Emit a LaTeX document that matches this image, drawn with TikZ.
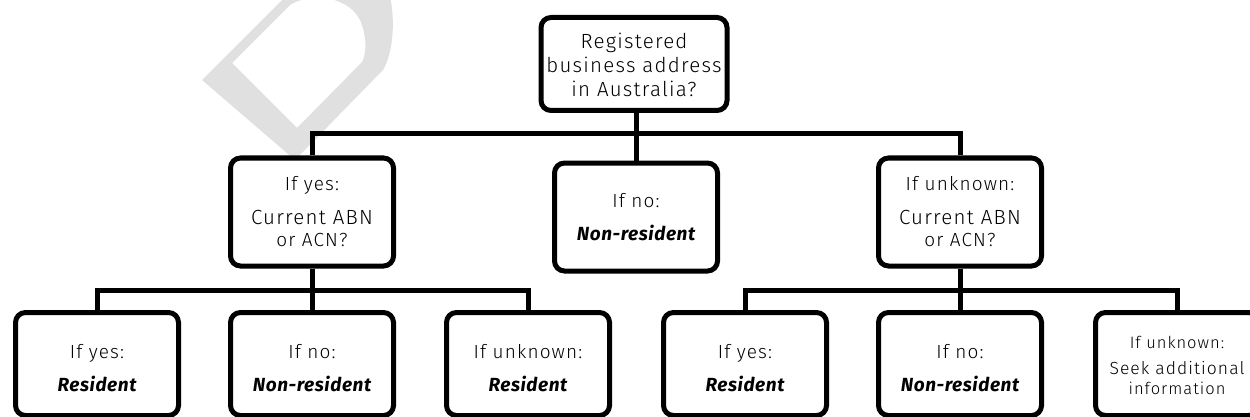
\documentclass[tikz,border=0pt]{standalone}
\usepackage{fontspec}
\setmainfont{Fira Sans Light}[LetterSpace=6]
\newfontfamily\emfont{Fira Sans}[LetterSpace=3]
\newcommand{\resword}[1]{{\emfont\bfseries\itshape #1}}
\newcommand{\qsize}{\fontsize{20.5}{23.5}\selectfont}
\begin{document}
\begin{tikzpicture}[x=1pt,y=-1pt,
  box/.style={draw, line width=5pt, rounded corners=10pt, fill=white,
    minimum width=163pt, minimum height=108pt, inner sep=0pt},
  topbox/.style={box, minimum width=186pt, minimum height=93pt},
  botbox/.style={box, minimum height=103pt},
  conn/.style={line width=5pt},
  txt/.style={align=center, inner sep=0pt, font=\fontsize{19}{22}\selectfont},
  smalltxt/.style={align=center, inner sep=0pt, font=\fontsize{16.5}{20}\selectfont},
  wmark/.style={fill=black!12}]
\useasboundingbox (0,0) rectangle (1250,417);
\clip (0,0) rectangle (1250,417);

% watermark (part of a rotated letter D)
\fill[wmark, even odd rule]
  (202,80) -- (286,-4) -- (390,-4) .. controls (396,25) and (392,55) .. (383,70) -- (295,160) -- cycle
  (232,63) -- (290,5) .. controls (310,-8) and (352,-5) .. (362,25) .. controls (367,40) and (366,55) .. (362,62) -- (297,128) -- cycle;

% coordinates of buses
\coordinate (topbus) at (636,134);
\coordinate (lbus) at (312,290);
\coordinate (rbus) at (960,290);

% boxes
\node[topbox] (top) at (634,64) {};
\node[box] (m1) at (312,212) {};
\node[box] (m2) at (636,217) {};
\node[box] (m3) at (960,212) {};
\node[botbox] (b1) at (97,364) {};
\node[botbox] (b2) at (312,364) {};
\node[botbox] (b3) at (528,364) {};
\node[botbox] (b4) at (745,364) {};
\node[botbox] (b5) at (960,364) {};
\node[botbox] (b6) at (1177,364) {};

% connectors
\draw[conn] (topbus |- top.south) -- (topbus) -- (m2.north);
\draw[conn] (m1.north) |- (topbus) -| (m3.north);
\draw[conn] (m1.south) -- (b2.north);
\draw[conn] (b1.north) |- (lbus) -| (b3.north);
\draw[conn] (m3.south) -- (b5.north);
\draw[conn] (b4.north) |- (rbus) -| (b6.north);

% texts
\node[txt, font=\fontsize{20.5}{24}\selectfont] (ttop) at ([yshift=-1pt]top.center) {Registered\\business address\\in Australia?};
\node[txt] (tm1) at (m1.center) {If yes:\\[12pt]\qsize Current ABN\\or ACN?};
\node[txt] (tm2) at (m2.center) {If no:\\[11pt]\resword{Non-resident}};
\node[txt] (tm3) at (m3.center) {If unknown:\\[12pt]\qsize Current ABN\\or ACN?};
\node[txt] (tb1) at ([yshift=-4pt]b1.center) {If yes:\\[11pt]\resword{Resident}};
\node[txt] (tb2) at ([yshift=-4pt]b2.center) {If no:\\[11pt]\resword{Non-resident}};
\node[txt] (tb3) at ([yshift=-4pt]b3.center) {If unknown:\\[11pt]\resword{Resident}};
\node[txt] (tb4) at ([yshift=-4pt]b4.center) {If yes:\\[11pt]\resword{Resident}};
\node[txt] (tb5) at ([yshift=-4pt]b5.center) {If no:\\[11pt]\resword{Non-resident}};
\node[smalltxt] (tb6) at ([yshift=-1pt]b6.center) {If unknown:\\[6pt]\fontsize{17.5}{20}\selectfont Seek additional\\information};
\end{tikzpicture}
\end{document}
